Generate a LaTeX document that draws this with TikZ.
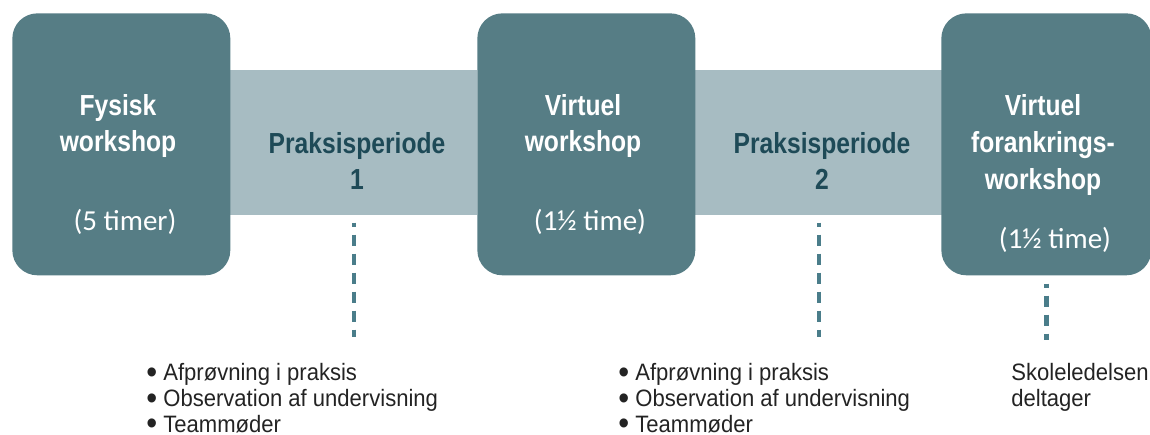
\documentclass[tikz,border=0pt]{standalone}
\usepackage{fontspec}
\setmainfont{Liberation Sans}
\newfontfamily\headfont[FakeStretch=0.85]{Liberation Sans}
\newfontfamily\listfont[FakeStretch=0.93]{Liberation Sans}
\newfontfamily\timefont{Carlito}
\usetikzlibrary{positioning}
\definecolor{boxteal}{RGB}{86,125,133}
\definecolor{bandgrey}{RGB}{167,188,194}
\definecolor{headteal}{RGB}{30,74,87}
\definecolor{dotteal}{RGB}{74,125,138}
\definecolor{listgrey}{RGB}{35,35,35}
\newcommand{\dotitem}{\smash{\raisebox{-1.5pt}{\fontsize{19}{0}\selectfont\textbullet}}\hspace{3.5pt}}
\begin{document}
\begin{tikzpicture}[x=0.02cm,y=-0.02cm,
    workshop/.style={fill=boxteal,rounded corners=0.5cm,minimum width=4.36cm,minimum height=5.24cm,anchor=north west,inner sep=0},
    band/.style={fill=bandgrey,minimum width=4.94cm,minimum height=2.9cm,anchor=north west,inner sep=0},
    title/.style={text=white,align=center,font=\headfont\bfseries\fontsize{16.5}{21}\selectfont},
    period/.style={text=headteal,align=center,font=\headfont\bfseries\fontsize{16.5}{21}\selectfont},
    hours/.style={text=white,font=\timefont\fontsize{16.5}{20}\selectfont},
    items/.style={text=listgrey,align=left,anchor=north west,inner sep=0,font=\listfont\fontsize{13.5}{14.74}\selectfont},
    link/.style={draw=dotteal,line width=0.09cm,dash pattern=on 0.22cm off 0.16cm,dash phase=0.14cm}]
  \useasboundingbox (0,0) rectangle (1150,435);

  % the bands between the workshops
  \node[band] (band1) at (230,70) {};
  \node[band] (band2) at (695,70) {};

  % the workshops
  \node[workshop] (fysisk) at (12,13) {};
  \node[workshop] (virtuel) at (477,13) {};
  \node[workshop,minimum width=4.2cm] (forankring) at (941,13) {};

  %% texts in the boxes
  \node[title] (fysisk title) at (118,126) {Fysisk\\workshop};
  \node[hours] (fysisk hours) at (125,222) {(5 timer)};
  \node[title] (virtuel title) at (583,126) {Virtuel\\workshop};
  \node[hours] (virtuel hours) at (590,222) {(1½ time)};
  \node[title] (forankring title) at (1043,145) {Virtuel\\forankrings-\\workshop};
  \node[hours] (forankring hours) at (1055,240) {(1½ time)};

  %% the periods
  \node[period] (per1) at (357,161) {Praksisperiode\\1};
  \node[period] (per2) at (822,161) {Praksisperiode\\2};

  %% what happens
  \node[items] (list1) at (146,363) {\dotitem Afprøvning i praksis\\
    \dotitem Observation af undervisning\\
    \dotitem Teammøder};
  \node[items] (list2) at (618,363) {\dotitem Afprøvning i praksis\\
    \dotitem Observation af undervisning\\
    \dotitem Teammøder};
  \node[items] (skole) at (1011,363) {Skoleledelsen\\deltager};

  % dotted links
  \draw[link,shorten <=0.14cm,shorten >=0.52cm] (band1.south) -- (band1.south |- list1.north);
  \draw[link,shorten <=0.14cm,shorten >=0.52cm] (band2.south) -- (band2.south |- list2.north);
  \draw[link,shorten <=0.16cm,shorten >=0.46cm] (forankring.south) -- (forankring.south |- skole.north);
\end{tikzpicture}
\end{document}
